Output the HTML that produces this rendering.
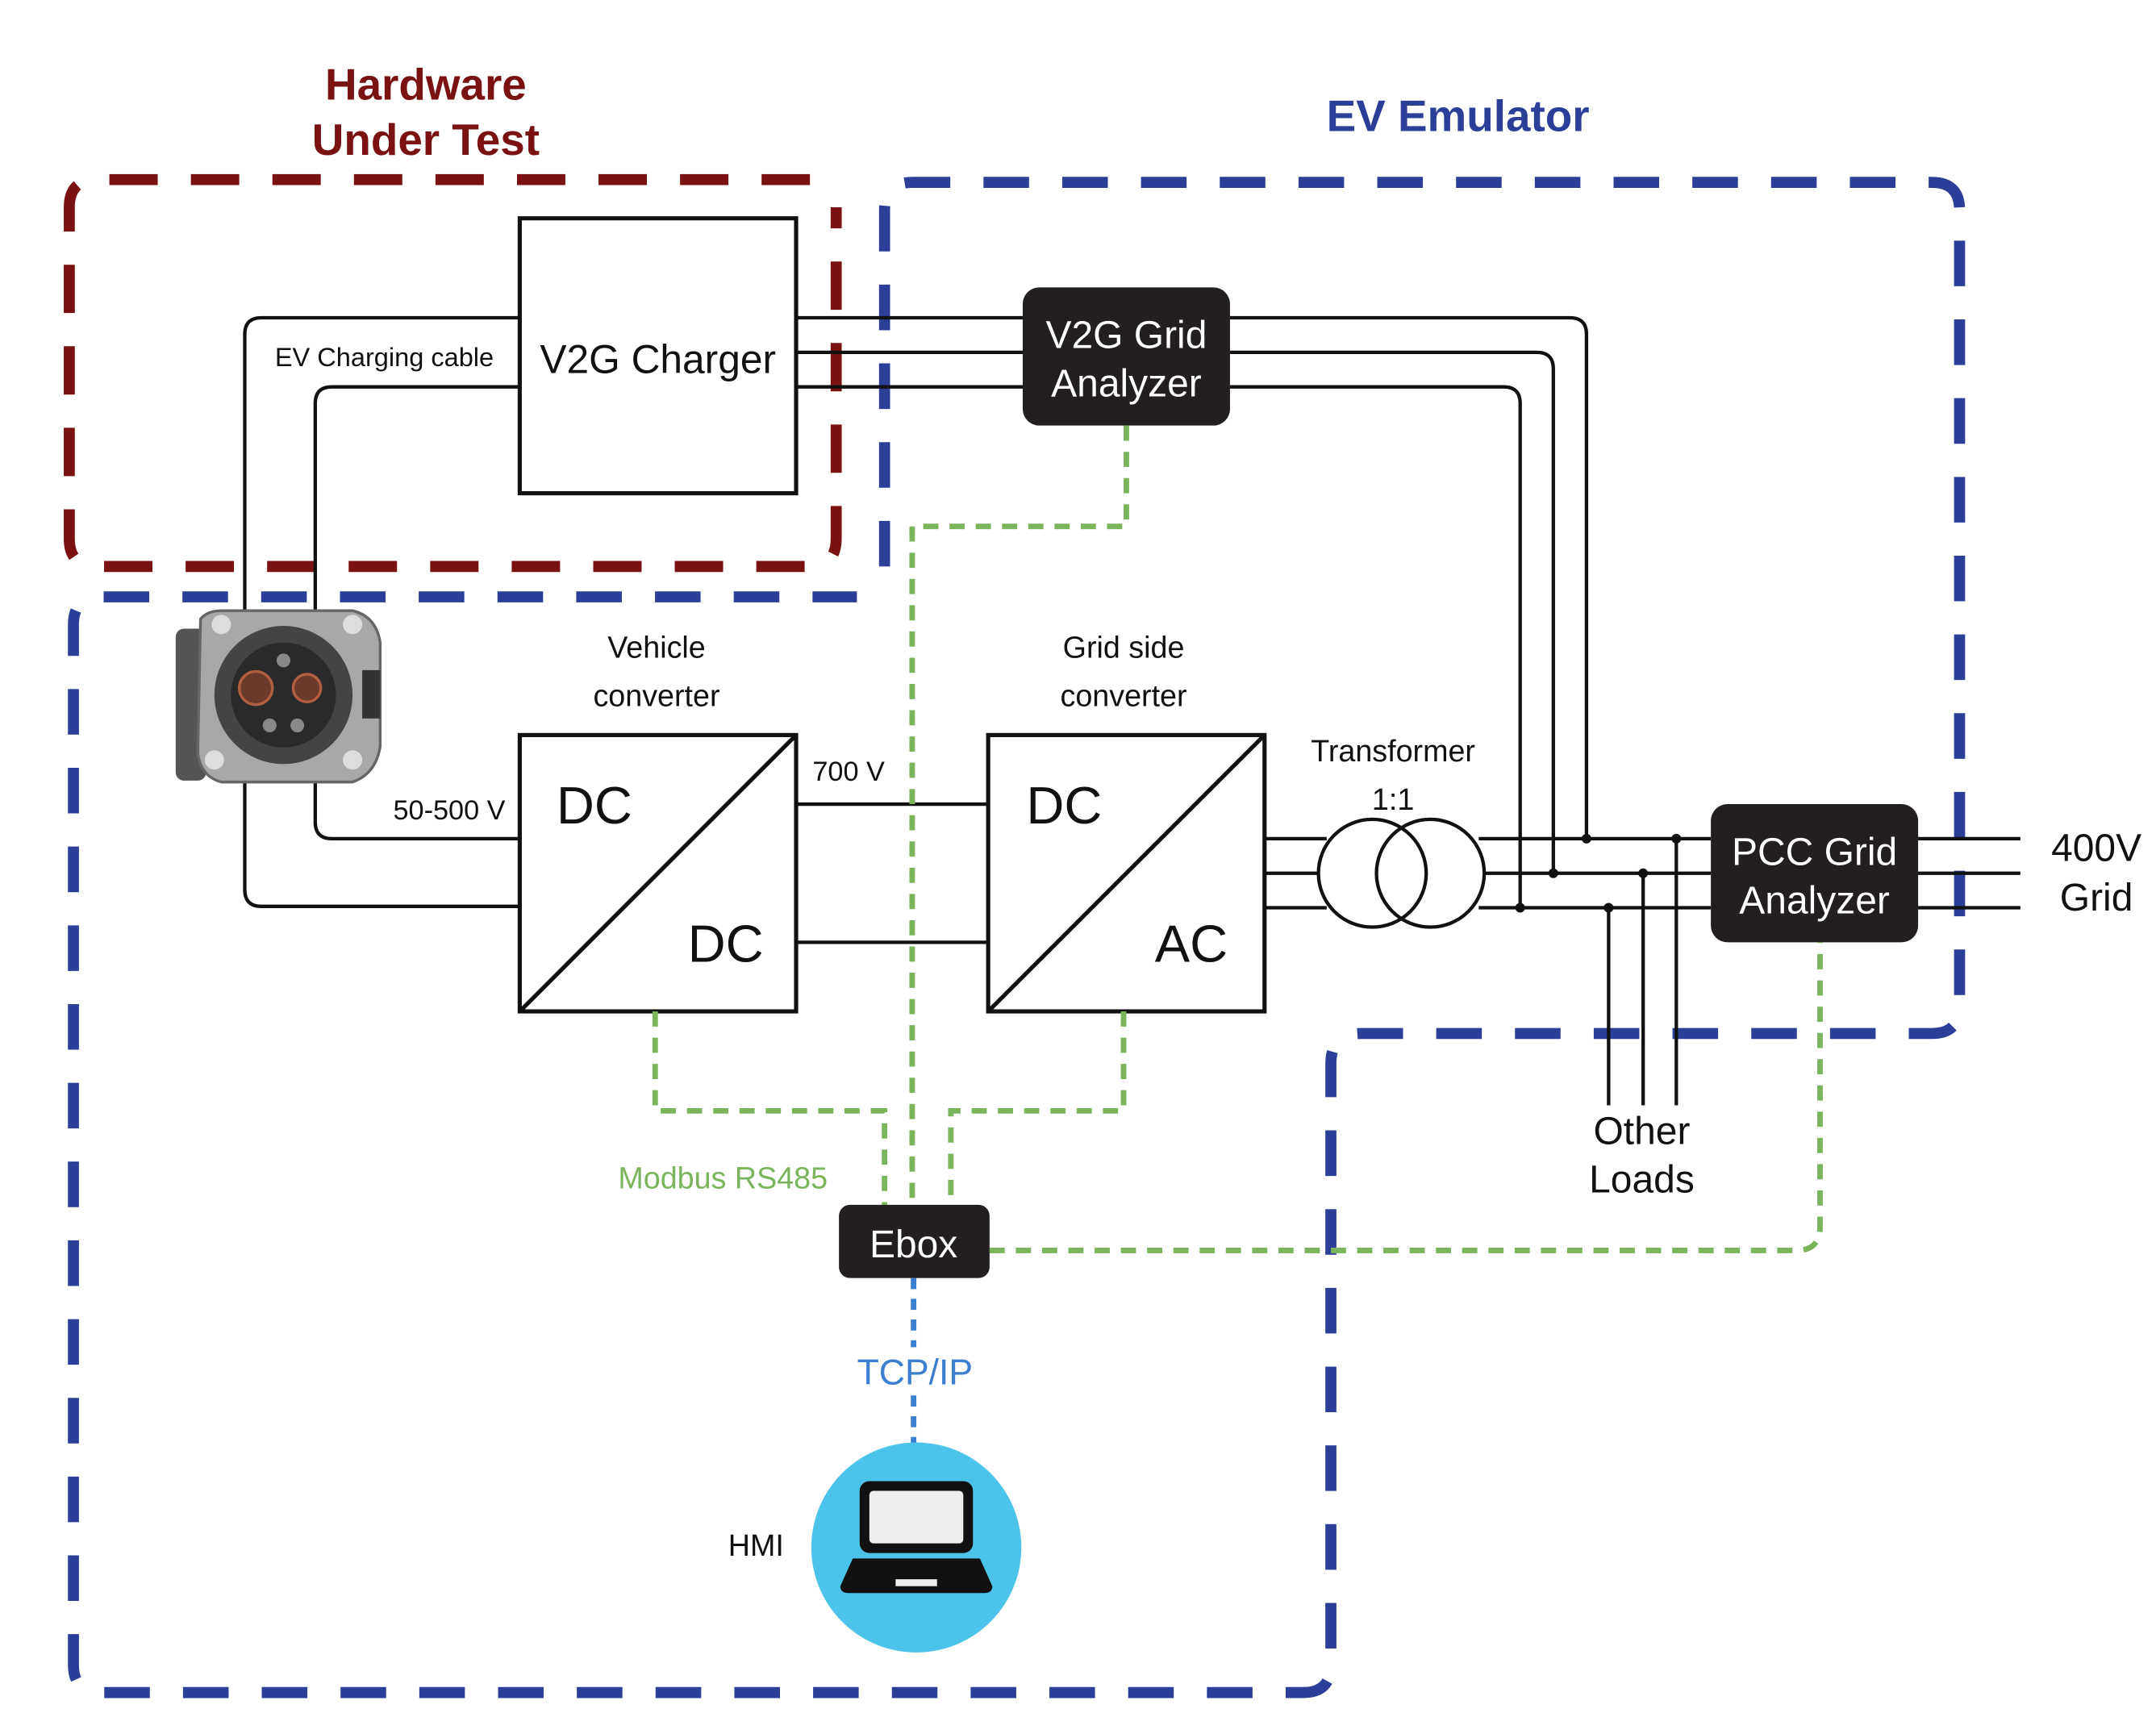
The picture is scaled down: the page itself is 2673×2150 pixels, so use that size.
<!DOCTYPE html>
<html><head><meta charset="utf-8"><style>
html,body{margin:0;padding:0;background:#fff;}
svg{display:block;}
text{font-family:"Liberation Sans",Arial,sans-serif;}
</style></head><body>
<svg width="2673" height="2150" viewBox="0 0 1560 1255" xmlns="http://www.w3.org/2000/svg">
<rect width="1560" height="1255" fill="#fff"/>
<!-- Titles -->
<text x="308" y="72" font-size="32" font-weight="bold" fill="#7a1212" text-anchor="middle">Hardware</text>
<text x="308" y="112" font-size="32" font-weight="bold" fill="#7a1212" text-anchor="middle">Under Test</text>
<text x="1055" y="95" font-size="32" font-weight="bold" fill="#2b3f98" text-anchor="middle">EV Emulator</text>

<!-- Blue dashed region -->
<path d="M640,410 L640,152 Q640,132 660,132 L1398,132 Q1418,132 1418,152 L1418,728 Q1418,748 1398,748 L985,748 Q963,748 963,770 L963,1205 Q963,1225 943,1225 L73,1225 Q53,1225 53,1205 L53,452 Q53,432 73,432 L620,432" fill="none" stroke="#2b3f98" stroke-width="8" stroke-dasharray="33,24"/>
<!-- Red dashed region -->
<path d="M586,130 L70,130 Q50,130 50,150 L50,390 Q50,410 70,410 L585,410 Q605,410 605,390 L605,150" fill="none" stroke="#7a1212" stroke-width="8" stroke-dasharray="35,24"/>

<!-- Power lines -->
<g fill="none" stroke="#111" stroke-width="2.5">
<path d="M576,230 L740,230 M890,230 L1136,230 Q1148,230 1148,242 L1148,607"/>
<path d="M576,255 L740,255 M890,255 L1112,255 Q1124,255 1124,267 L1124,632"/>
<path d="M576,280 L740,280 M890,280 L1088,280 Q1100,280 1100,292 L1100,657"/>
<path d="M376,230 L189,230 Q177,230 177,242 L177,644 Q177,656 189,656 L376,656"/>
<path d="M376,280 L240,280 Q228,280 228,292 L228,595 Q228,607 240,607 L376,607"/>
<path d="M576,582 L715,582 M576,682 L715,682"/>
<path d="M915,607 L960,607 M915,632 L955,632 M915,657 L960,657"/>
<path d="M1070,607 L1238,607 M1075,632 L1238,632 M1070,657 L1238,657"/>
<path d="M1388,607 L1462,607 M1388,632 L1462,632 M1388,657 L1462,657"/>
<path d="M1164,657 L1164,800 M1189,632 L1189,800 M1213,607 L1213,800"/>
<circle cx="993" cy="632" r="39"/>
<circle cx="1035" cy="632" r="39"/>
</g>
<g fill="#111">
<circle cx="1148" cy="607" r="3.5"/><circle cx="1124" cy="632" r="3.5"/><circle cx="1100" cy="657" r="3.5"/>
<circle cx="1164" cy="657" r="3.5"/><circle cx="1189" cy="632" r="3.5"/><circle cx="1213" cy="607" r="3.5"/>
</g>

<!-- V2G Charger -->
<rect x="376" y="158" width="200" height="199" fill="#fff" stroke="#111" stroke-width="3"/>
<text x="476" y="270" font-size="29" text-anchor="middle" fill="#111">V2G Charger</text>
<text x="278" y="265" font-size="19" text-anchor="middle" fill="#111">EV Charging cable</text>

<!-- V2G Grid Analyzer -->
<rect x="740" y="208" width="150" height="100" rx="12" fill="#231f20"/>
<text x="815" y="252" font-size="28" text-anchor="middle" fill="#fff">V2G Grid</text>
<text x="815" y="287" font-size="28" text-anchor="middle" fill="#fff">Analyzer</text>

<!-- PCC -->
<rect x="1238" y="582" width="150" height="100" rx="12" fill="#231f20"/>
<text x="1313" y="626" font-size="28" text-anchor="middle" fill="#fff">PCC Grid</text>
<text x="1313" y="661" font-size="28" text-anchor="middle" fill="#fff">Analyzer</text>
<text x="1517" y="623" font-size="28" text-anchor="middle" fill="#111">400V</text>
<text x="1517" y="659" font-size="28" text-anchor="middle" fill="#111">Grid</text>
<text x="1188" y="828" font-size="28" text-anchor="middle" fill="#111">Other</text>
<text x="1188" y="863" font-size="28" text-anchor="middle" fill="#111">Loads</text>

<!-- Connector image approximation -->
<g>
<rect x="127" y="455" width="22" height="110" rx="6" fill="#555"/>
<path d="M145,448 Q150,442 160,442 L255,442 Q272,446 275,465 L275,540 Q272,560 255,566 L160,566 Q145,562 143,545 Z" fill="#a8a8a8" stroke="#666" stroke-width="2"/>
<circle cx="205" cy="503" r="50" fill="#444"/>
<circle cx="205" cy="503" r="38" fill="#2a2a2a"/>
<circle cx="185" cy="498" r="12" fill="#6b3a2a" stroke="#b06040" stroke-width="2"/>
<circle cx="222" cy="498" r="10" fill="#6b3a2a" stroke="#b06040" stroke-width="2"/>
<circle cx="195" cy="525" r="5" fill="#888"/><circle cx="215" cy="525" r="5" fill="#888"/><circle cx="205" cy="478" r="5" fill="#888"/>
<circle cx="160" cy="452" r="7" fill="#ddd"/><circle cx="255" cy="452" r="7" fill="#ddd"/>
<circle cx="155" cy="550" r="7" fill="#ddd"/><circle cx="255" cy="550" r="7" fill="#ddd"/>
<rect x="262" y="485" width="13" height="35" fill="#333"/>
</g>

<!-- DC/DC -->
<rect x="376" y="532" width="200" height="200" fill="#fff" stroke="#111" stroke-width="3"/>
<line x1="376" y1="732" x2="576" y2="532" stroke="#111" stroke-width="3"/>
<text x="430" y="596" font-size="38" text-anchor="middle" fill="#111">DC</text>
<text x="525" y="696" font-size="38" text-anchor="middle" fill="#111">DC</text>
<text x="475" y="476" font-size="22" text-anchor="middle" fill="#111">Vehicle</text>
<text x="475" y="511" font-size="22" text-anchor="middle" fill="#111">converter</text>
<text x="325" y="593" font-size="20" text-anchor="middle" fill="#111">50-500 V</text>
<text x="614" y="565" font-size="20" text-anchor="middle" fill="#111">700 V</text>

<!-- DC/AC -->
<rect x="715" y="532" width="200" height="200" fill="#fff" stroke="#111" stroke-width="3"/>
<line x1="715" y1="732" x2="915" y2="532" stroke="#111" stroke-width="3"/>
<text x="770" y="596" font-size="38" text-anchor="middle" fill="#111">DC</text>
<text x="862" y="696" font-size="38" text-anchor="middle" fill="#111">AC</text>
<text x="813" y="476" font-size="22" text-anchor="middle" fill="#111">Grid side</text>
<text x="813" y="511" font-size="22" text-anchor="middle" fill="#111">converter</text>
<text x="1008" y="551" font-size="22" text-anchor="middle" fill="#111">Transformer</text>
<text x="1008" y="586" font-size="22" text-anchor="middle" fill="#111">1:1</text>

<!-- Green dashed comms -->
<g fill="none" stroke="#7ab55c" stroke-width="4" stroke-dasharray="11,8">
<path d="M815,308 L815,381 L660,381 L660,875"/>
<path d="M474,732 L474,804 L640,804 L640,875"/>
<path d="M813,732 L813,804 L688,804 L688,875"/>
<path d="M716,905 L1300,905 Q1317,905 1317,888 L1317,682"/>
</g>
<text x="523" y="860" font-size="22" text-anchor="middle" fill="#7ab55c">Modbus RS485</text>

<!-- Ebox -->
<rect x="607" y="872" width="109" height="53" rx="8" fill="#231f20"/>
<text x="661" y="910" font-size="28" text-anchor="middle" fill="#fff">Ebox</text>

<!-- TCP/IP -->
<path d="M661,925 L661,975 M661,1010 L661,1045" stroke="#3a7fd0" stroke-width="4" stroke-dasharray="8,7" fill="none"/>
<text x="662" y="1002" font-size="26" text-anchor="middle" fill="#3a7fd0">TCP/IP</text>

<!-- HMI -->
<circle cx="663" cy="1120" r="76" fill="#4cc3ea"/>
<rect x="622" y="1072" width="82" height="52" rx="7" fill="#111"/>
<rect x="629" y="1079" width="68" height="38" rx="3" fill="#eee"/>
<path d="M617,1128 L709,1128 L718,1148 Q718,1153 712,1153 L614,1153 Q608,1153 608,1148 Z" fill="#111"/>
<rect x="648" y="1143" width="30" height="5" fill="#eee"/>
<text x="547" y="1126" font-size="22" text-anchor="middle" fill="#111">HMI</text>
</svg>
</body></html>
